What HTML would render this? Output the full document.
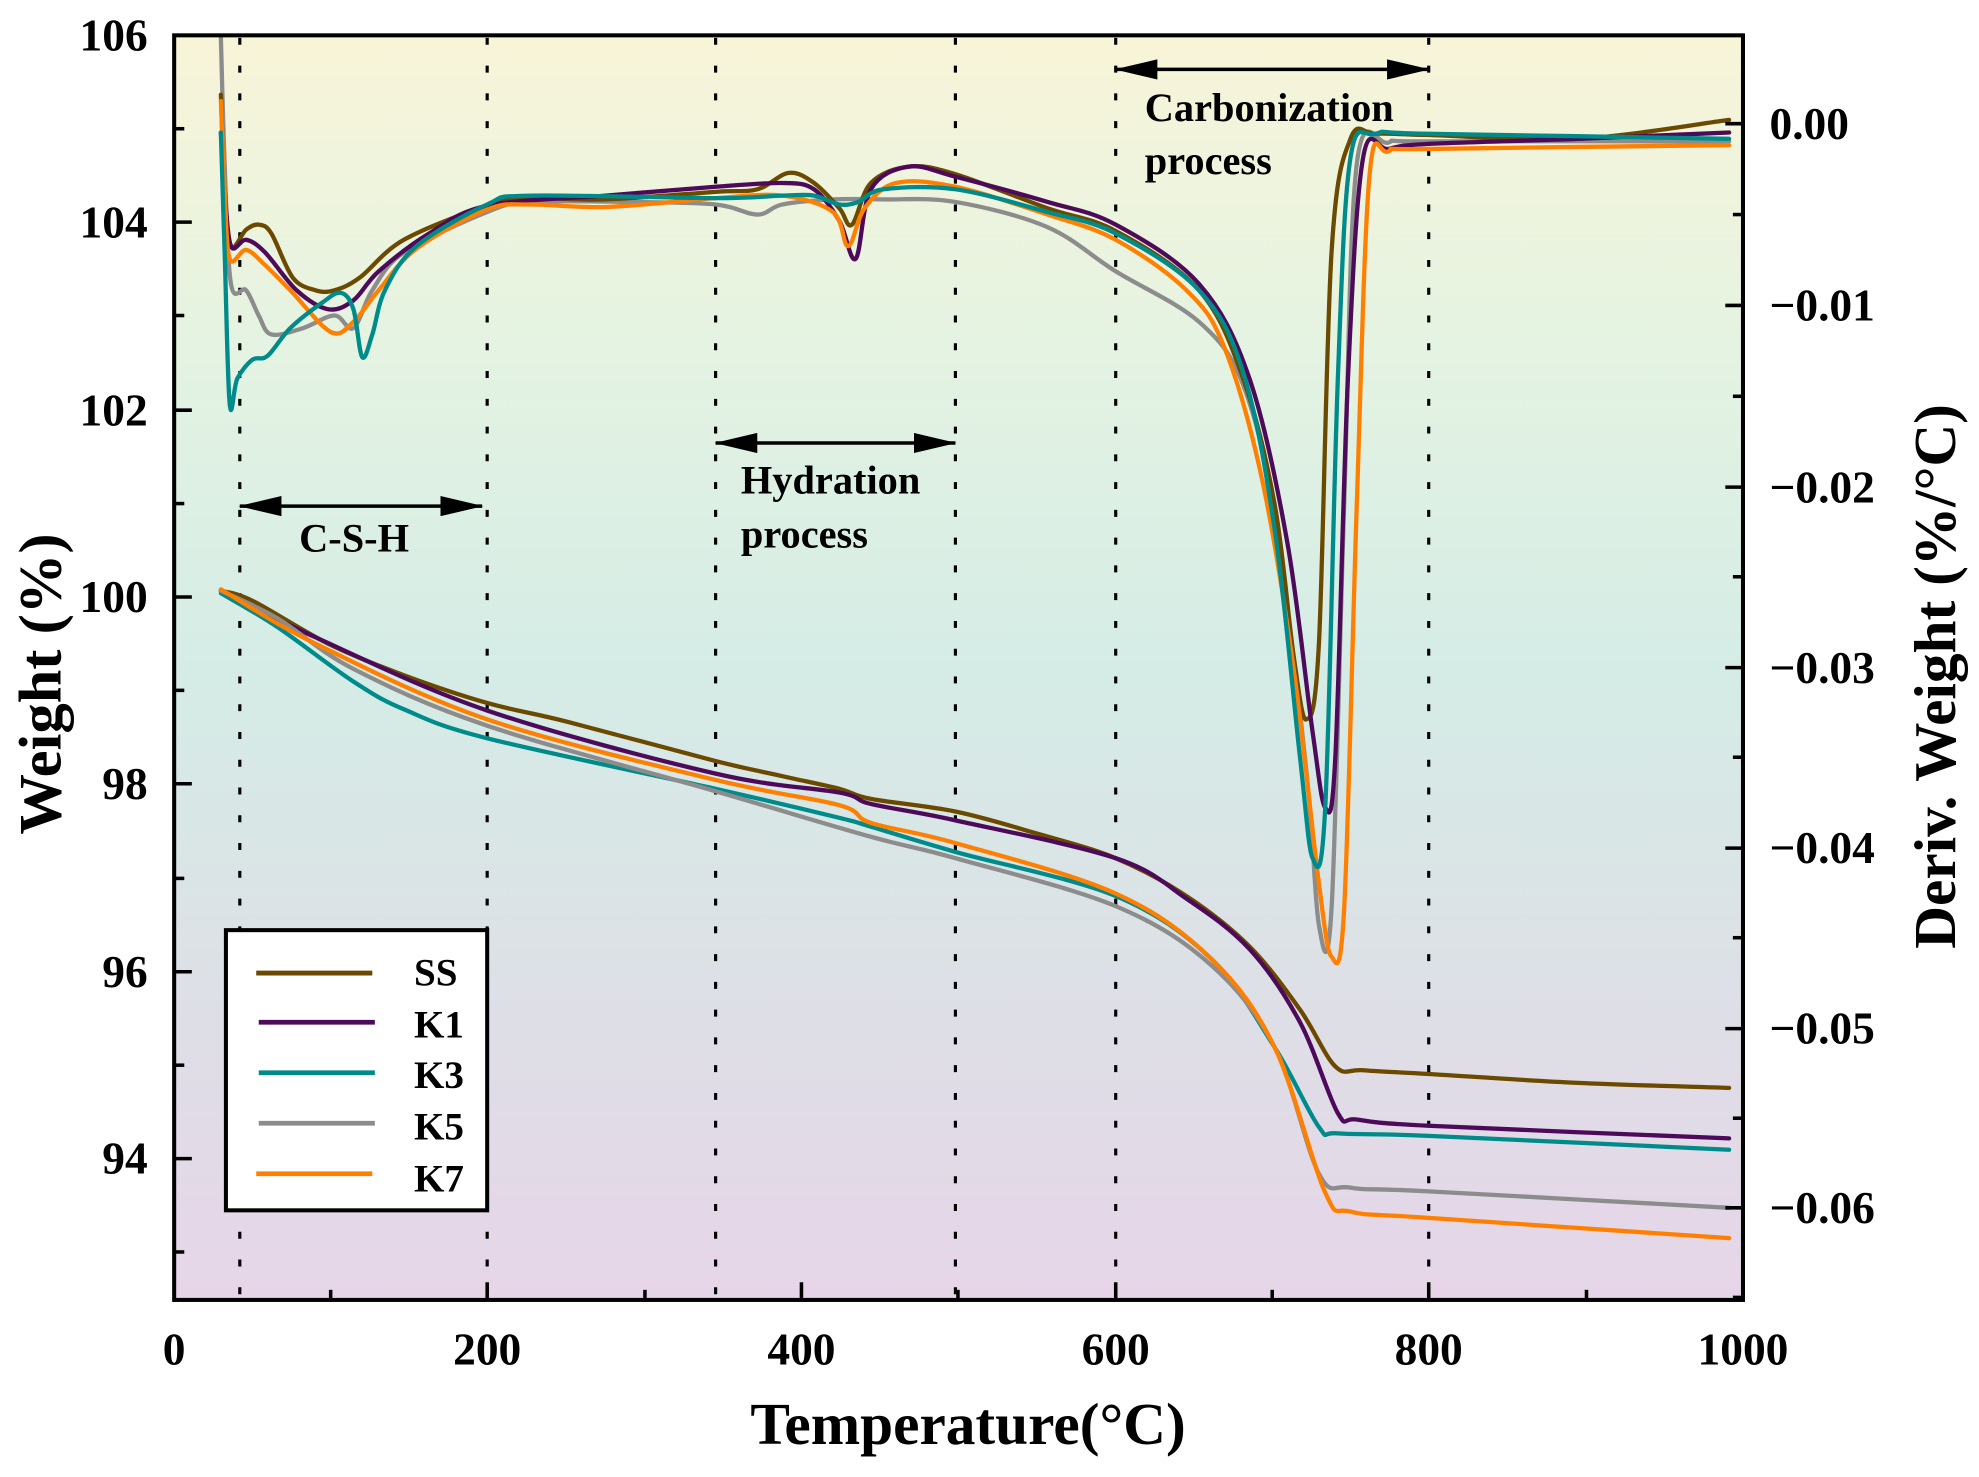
<!DOCTYPE html>
<html><head><meta charset="utf-8"><style>
html,body{margin:0;padding:0;background:#fff}
svg{display:block}
text{font-family:"Liberation Serif",serif;font-weight:bold;fill:#000}
</style></head><body>
<svg id="s" width="1979" height="1477" viewBox="0 0 1568 1170.3" preserveAspectRatio="none">
<defs>
<linearGradient id="bg" x1="0" y1="0" x2="0" y2="1">
<stop offset="0" stop-color="#f8f4d8"/>
<stop offset="0.25" stop-color="#e4f3e2"/>
<stop offset="0.5" stop-color="#d5ece6"/>
<stop offset="0.75" stop-color="#dde0e6"/>
<stop offset="1" stop-color="#e6d5e8"/>
</linearGradient>
<marker id="ah2" markerWidth="34" markerHeight="16" refX="33" refY="8" orient="auto-start-reverse" markerUnits="userSpaceOnUse"><path d="M0,0 L34,8 L0,16 Z" fill="#000"/></marker>
</defs>
<rect x="138" y="28" width="1243" height="1002" fill="url(#bg)"/>
<g stroke="#000" stroke-width="2.5" stroke-dasharray="5.5,16.5" fill="none">
<line x1="190" y1="30" x2="190" y2="1028"/>
<line x1="386" y1="30" x2="386" y2="1028"/>
<line x1="567" y1="30" x2="567" y2="1028"/>
<line x1="757" y1="30" x2="757" y2="1028"/>
<line x1="884" y1="30" x2="884" y2="1028"/>
<line x1="1132" y1="30" x2="1132" y2="1028"/>
</g>
<g stroke="#000" stroke-width="2.8" fill="none">
<line x1="884" y1="55" x2="1132" y2="55" marker-start="url(#ah2)" marker-end="url(#ah2)"/>
<line x1="567" y1="351" x2="757" y2="351" marker-start="url(#ah2)" marker-end="url(#ah2)"/>
<line x1="190" y1="401" x2="382" y2="401" marker-start="url(#ah2)" marker-end="url(#ah2)"/>
</g>
<g font-size="32">
<text x="907" y="96">Carbonization</text>
<text x="907" y="138">process</text>
<text x="587" y="391">Hydration</text>
<text x="587" y="434">process</text>
<text x="237" y="437">C-S-H</text>
</g>
<g class="c" fill="none" stroke-width="3.4" stroke-linejoin="round" stroke-linecap="round">
<polyline stroke="#6b4a00" points="175,468 200,476 260,510 320,535 386,557 450,572 567,603 620,615 665,625 690,633 757,643 820,660 884,680 940,710 990,750 1030,800 1058,845 1080,848 1132,851 1250,858 1370,862"/>
<polyline stroke="#4e0a5a" points="175,468 250,505 386,563 567,613 665,628 690,637 757,650 884,680 940,712 990,752 1030,810 1060,882 1075,887 1132,892 1370,902"/>
<polyline stroke="#008b8b" points="175,470 220,497 280,540 320,562 386,585 567,625 665,648 690,655 757,675 884,710 960,760 1010,830 1045,893 1060,898 1132,900 1370,911"/>
<polyline stroke="#8c8c8c" points="175,468 220,490 280,530 386,575 567,627 690,663 757,680 884,718 960,765 1010,830 1045,930 1070,941 1132,944 1370,957"/>
<polyline stroke="#ff8000" points="175,467 250,510 386,570 567,618 665,638 690,652 757,668 884,708 960,760 1010,830 1050,945 1070,960 1132,965 1370,981"/>
</g>
<g class="c" fill="none" stroke-width="3.4" stroke-linejoin="round" stroke-linecap="round">
<polyline stroke="#8c8c8c" points="175,30 178,130 183,225 195,230 205,250 215,265 240,260 265,250 280,260 295,230 320,200 386,168 420,160 500,160 567,162 600,170 620,162 660,158 700,158 757,160 830,180 884,215 950,255 985,305 1010,410 1035,610 1045,733 1055,720 1065,400 1075,130 1100,113 1132,112 1370,112"/>
<polyline stroke="#6b4a00" points="175,75 178,150 183,195 195,182 205,178 215,185 232,220 250,230 265,230 285,220 320,190 386,163 420,157 480,158 567,152 600,150 625,137 645,145 665,165 675,178 690,145 720,132 757,138 830,165 884,183 950,230 985,300 1010,400 1025,520 1035,570 1045,510 1055,200 1070,110 1090,106 1132,107 1250,110 1370,95"/>
<polyline stroke="#4e0a5a" points="175,105 178,150 183,195 195,190 210,200 235,230 260,245 280,238 300,215 340,185 386,163 480,155 567,148 620,145 645,150 665,175 678,205 690,150 720,132 757,140 830,160 884,178 950,225 990,300 1020,430 1040,580 1050,640 1058,600 1068,300 1080,125 1100,118 1132,114 1250,110 1370,105"/>
<polyline stroke="#ff8000" points="175,80 178,150 182,205 195,198 210,210 230,230 262,263 280,255 300,230 330,197 386,166 420,162 480,164 567,157 620,155 660,168 672,195 685,165 710,145 757,148 830,170 884,190 940,230 970,275 1000,380 1025,530 1045,700 1055,758 1065,720 1075,400 1085,140 1100,120 1132,118 1370,115"/>
<polyline stroke="#008b8b" points="175,105 178,200 182,320 188,300 200,285 212,282 230,260 255,240 270,232 280,245 287,283 295,265 305,230 330,195 386,162 420,155 567,157 620,155 645,155 665,162 680,160 700,150 757,150 830,168 884,185 950,230 985,295 1010,420 1030,600 1040,680 1050,640 1060,300 1070,125 1090,106 1132,106 1370,110"/>
</g>
<rect x="138" y="28" width="1243" height="1002" fill="none" stroke="#000" stroke-width="3.2"/>
<g stroke="#000" stroke-width="2.8">
<line x1="138" y1="176" x2="152" y2="176"/><line x1="138" y1="325" x2="152" y2="325"/><line x1="138" y1="473" x2="152" y2="473"/><line x1="138" y1="621" x2="152" y2="621"/><line x1="138" y1="770" x2="152" y2="770"/><line x1="138" y1="918" x2="152" y2="918"/>
<line x1="138" y1="102" x2="146" y2="102"/><line x1="138" y1="250" x2="146" y2="250"/><line x1="138" y1="399" x2="146" y2="399"/><line x1="138" y1="547" x2="146" y2="547"/><line x1="138" y1="696" x2="146" y2="696"/><line x1="138" y1="844" x2="146" y2="844"/><line x1="138" y1="992" x2="146" y2="992"/>
<line x1="1367" y1="98" x2="1381" y2="98"/><line x1="1367" y1="242" x2="1381" y2="242"/><line x1="1367" y1="386" x2="1381" y2="386"/><line x1="1367" y1="529" x2="1381" y2="529"/><line x1="1367" y1="672" x2="1381" y2="672"/><line x1="1367" y1="815" x2="1381" y2="815"/><line x1="1367" y1="957" x2="1381" y2="957"/>
<line x1="1373" y1="170" x2="1381" y2="170"/><line x1="1373" y1="314" x2="1381" y2="314"/><line x1="1373" y1="457" x2="1381" y2="457"/><line x1="1373" y1="600" x2="1381" y2="600"/><line x1="1373" y1="743" x2="1381" y2="743"/><line x1="1373" y1="886" x2="1381" y2="886"/><line x1="1373" y1="1028" x2="1381" y2="1028"/>
<line x1="386" y1="1030" x2="386" y2="1016"/><line x1="635" y1="1030" x2="635" y2="1016"/><line x1="884" y1="1030" x2="884" y2="1016"/><line x1="1132" y1="1030" x2="1132" y2="1016"/>
<line x1="262" y1="1030" x2="262" y2="1022"/><line x1="511" y1="1030" x2="511" y2="1022"/><line x1="759" y1="1030" x2="759" y2="1022"/><line x1="1008" y1="1030" x2="1008" y2="1022"/><line x1="1257" y1="1030" x2="1257" y2="1022"/>
</g>
<g font-size="36" text-anchor="end">
<text x="117" y="40">106</text><text x="117" y="188">104</text><text x="117" y="337">102</text><text x="117" y="485">100</text><text x="117" y="633">98</text><text x="117" y="782">96</text><text x="117" y="930">94</text>
</g>
<g font-size="36" text-anchor="start">
<text x="1402" y="110">0.00</text><text x="1402" y="254">−0.01</text><text x="1402" y="398">−0.02</text><text x="1402" y="541">−0.03</text><text x="1402" y="684">−0.04</text><text x="1402" y="827">−0.05</text><text x="1402" y="969">−0.06</text>
</g>
<g font-size="36" text-anchor="middle">
<text x="138" y="1081">0</text><text x="386" y="1081">200</text><text x="635" y="1081">400</text><text x="884" y="1081">600</text><text x="1132" y="1081">800</text><text x="1381" y="1081">1000</text>
</g>
<text x="767" y="1144" font-size="47" text-anchor="middle">Temperature(°C)</text>
<text transform="translate(48,542) rotate(-90)" font-size="48" text-anchor="middle">Weight (%)</text>
<text transform="translate(1549,536) rotate(-90)" font-size="47" text-anchor="middle">Deriv. Weight (%/°C)</text>
<rect x="179" y="737" width="207" height="222" fill="#fff" stroke="#000" stroke-width="3.2"/>
<g stroke-width="3.8">
<line x1="203" y1="771" x2="295" y2="771" stroke="#6b4a00"/>
<line x1="205" y1="810" x2="297" y2="810" stroke="#4e0a5a"/>
<line x1="205" y1="850" x2="297" y2="850" stroke="#008b8b"/>
<line x1="205" y1="890" x2="297" y2="890" stroke="#8c8c8c"/>
<line x1="203" y1="930" x2="295" y2="930" stroke="#ff8000"/>
</g>
<g font-size="31">
<text x="328" y="781">SS</text><text x="328" y="822">K1</text><text x="328" y="862">K3</text><text x="328" y="903">K5</text><text x="328" y="944">K7</text>
</g>
</svg>
<script>
(function(){
var ns="http://www.w3.org/2000/svg";
document.querySelectorAll("g.c polyline").forEach(function(pl){
var p=pl.getAttribute("points").trim().split(/\s+/).map(function(s){var a=s.split(",");return [+a[0],+a[1]];});
var d="M"+p[0][0]+","+p[0][1];
for(var i=0;i<p.length-1;i++){
var p0=p[i-1]||p[i],p1=p[i],p2=p[i+1],p3=p[i+2]||p2,t=6;
var c1=[p1[0]+(p2[0]-p0[0])/t,p1[1]+(p2[1]-p0[1])/t];
var c2=[p2[0]-(p3[0]-p1[0])/t,p2[1]-(p3[1]-p1[1])/t];
d+=" C"+c1[0].toFixed(1)+","+c1[1].toFixed(1)+" "+c2[0].toFixed(1)+","+c2[1].toFixed(1)+" "+p2[0]+","+p2[1];
}
var path=document.createElementNS(ns,"path");
path.setAttribute("d",d);path.setAttribute("stroke",pl.getAttribute("stroke"));
pl.parentNode.replaceChild(path,pl);
});
})();
</script>
</body></html>
